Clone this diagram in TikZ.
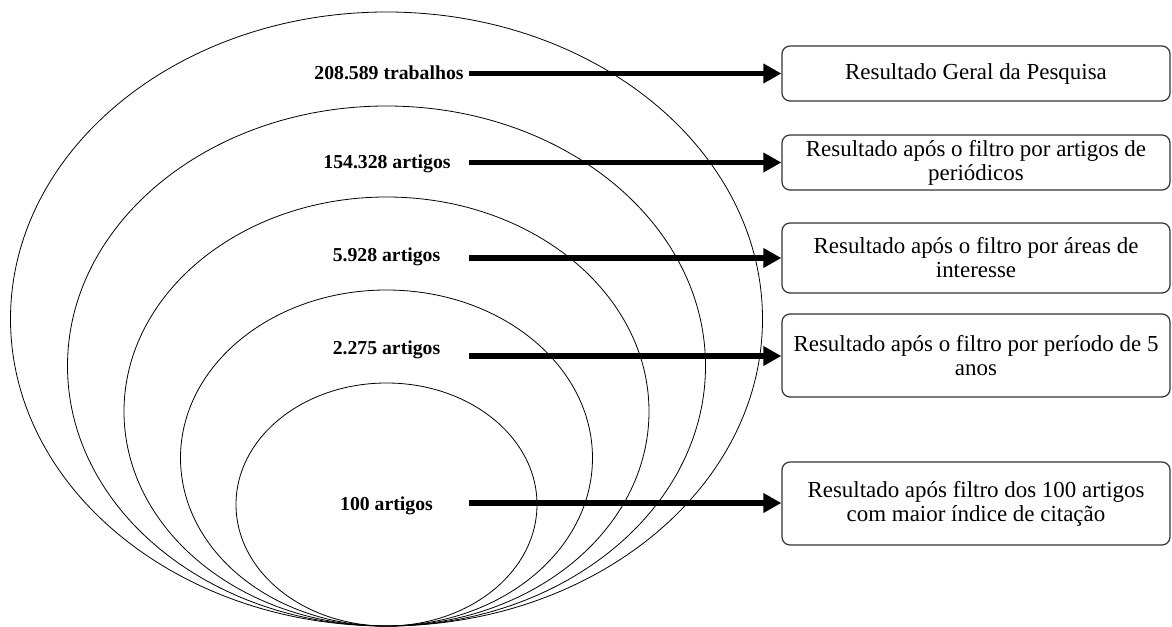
\documentclass[tikz,border=0pt]{standalone}
\usepackage{fontspec}
\setmainfont{Liberation Serif}
\usetikzlibrary{arrows.meta}
\begin{document}
\begin{tikzpicture}[x=0.75pt,y=-0.75pt,
  ell/.style={draw=black, line width=0.6pt},
  lbl/.style={inner sep=0pt, font=\fontsize{14.8}{17}\selectfont\bfseries},
  box/.style={draw=black!80, line width=0.9pt, rounded corners=6pt, minimum width=291pt, inner sep=0pt, align=center, font=\fontsize{17.2}{18}\selectfont},
  arr/.style={line width=3.8pt, -{Triangle[length=13.5pt,width=14pt]}}]
\useasboundingbox (0,0) rectangle (1172,627);
% nested ellipses
\draw[ell] (386.5,319) ellipse [x radius=282pt, y radius=230.25pt];
\draw[ell] (386.5,366) ellipse [x radius=239.25pt, y radius=195pt];
\draw[ell] (386.5,411.5) ellipse [x radius=196.875pt, y radius=160.875pt];
\draw[ell] (386.5,458) ellipse [x radius=154.5pt, y radius=126pt];
\draw[ell] (386.5,504.5) ellipse [x radius=112.875pt, y radius=91.125pt];
% labels
\node[lbl] (l1) at (389,73) {208.589 trabalhos};
\node[lbl] (l2) at (387,164) {154.328 artigos};
\node[lbl] (l3) at (386.5,257) {5.928 artigos};
\node[lbl] (l4) at (386.5,350) {2.275 artigos};
\node[lbl] (l5) at (386.5,506) {100 artigos};
% boxes
\node[box, minimum height=41.25pt] (b1) at (976,73.5) {Resultado Geral da Pesquisa};
\node[box, minimum height=41.25pt] (b2) at (976,162.5) {Resultado após o filtro por artigos de\\periódicos};
\node[box, minimum height=52.5pt] (b3) at (976,258) {Resultado após o filtro por áreas de\\interesse};
\node[box, minimum height=62.25pt] (b4) at (976,355.5) {Resultado após o filtro por período de 5\\anos};
\node[box, minimum height=62.25pt] (b5) at (976,503.5) {Resultado após filtro dos 100 artigos\\com maior índice de citação};
% arrow starts
\coordinate (s1) at (469,73.5);
\coordinate (s2) at (469,162.5);
\coordinate (s3) at (469,258);
\coordinate (s4) at (469,356);
\coordinate (s5) at (469,503);
\draw[arr] (s1) -- (s1 -| b1.west);
\draw[arr] (s2) -- (s2 -| b2.west);
\draw[arr] (s3) -- (s3 -| b3.west);
\draw[arr] (s4) -- (s4 -| b4.west);
\draw[arr] (s5) -- (s5 -| b5.west);
\end{tikzpicture}
\end{document}
